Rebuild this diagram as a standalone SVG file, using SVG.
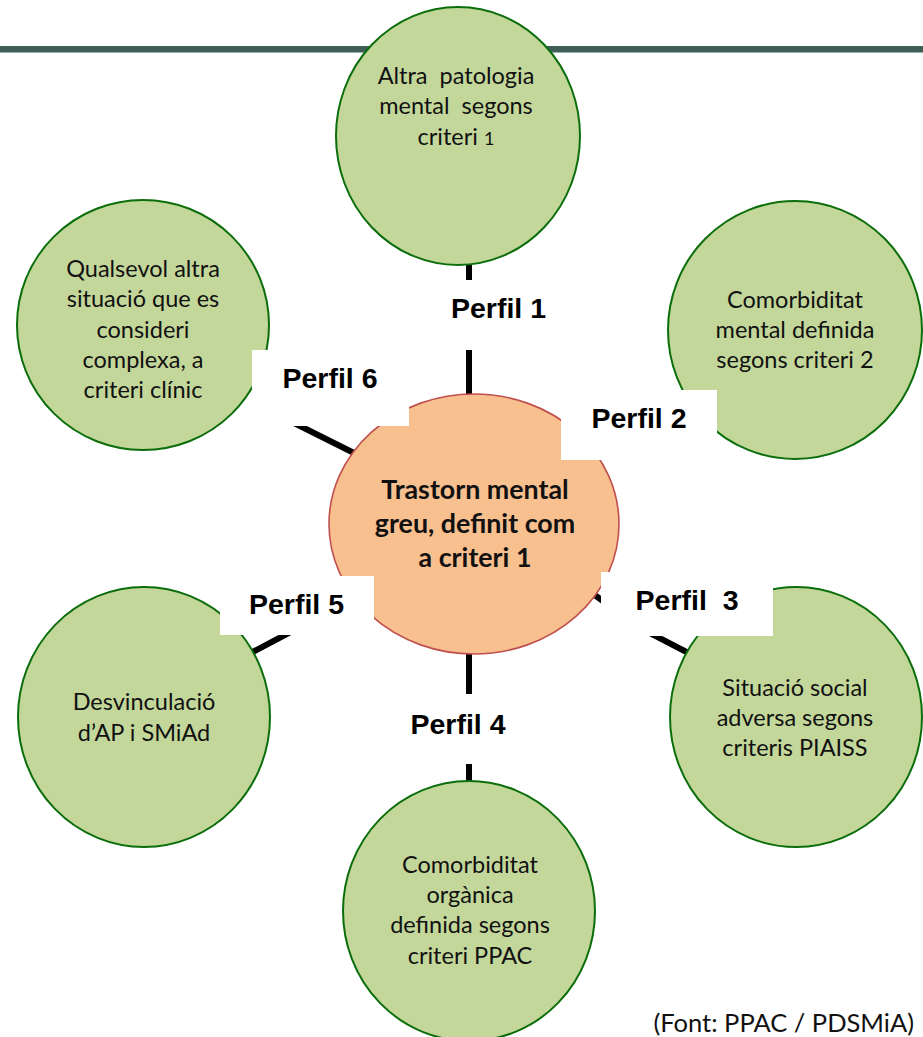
<svg xmlns="http://www.w3.org/2000/svg" width="923" height="1037" viewBox="0 0 923 1037">
<style>
.bar{fill:#3f5e58}
.node{fill:#c4d79b;stroke:#0b6e0b;stroke-width:2}
.core{fill:#f8bf8f;stroke:#c0504d;stroke-width:1.6}
.edge{stroke:#000;stroke-width:6;fill:none}
.lblbox{fill:#fff}
.t{font-family:Lato,"Liberation Sans",sans-serif;font-size:23.5px;fill:#111;text-anchor:middle;white-space:pre}
.tb{font-family:Lato,"Liberation Sans",sans-serif;font-size:26.8px;font-weight:bold;fill:#111;text-anchor:middle}
.lbl{font-family:"Liberation Sans",Arial,sans-serif;font-size:28.5px;font-weight:bold;fill:#000;text-anchor:middle;white-space:pre}
.cap{font-family:Lato,"Liberation Sans",sans-serif;font-size:25.5px;fill:#111;text-anchor:end}
</style>
<rect width="923" height="1037" fill="#fff"/>
<rect class="bar" x="0" y="46" width="923" height="6.5"/>

<g id="connectors">
<line class="edge" x1="469" y1="250" x2="469" y2="410"/>
<line class="edge" x1="575" y1="445" x2="705" y2="418"/>
<polyline class="edge" points="585,588 640,628 700,659"/>
<line class="edge" x1="469" y1="640" x2="469" y2="795"/>
<line class="edge" x1="230" y1="664" x2="300" y2="627"/>
<line class="edge" x1="280" y1="416" x2="372" y2="462"/>
</g>

<g id="node-top">
<ellipse class="node" cx="458" cy="136" rx="122" ry="129"/>
<text class="t" x="456" y="84">Altra  patologia</text>
<text class="t" x="456" y="114">mental  segons</text>
<text class="t" x="456" y="145">criteri <tspan font-size="18">1</tspan></text>
</g>

<g id="node-topright">
<ellipse class="node" cx="795" cy="330" rx="127" ry="129"/>
<text class="t" x="795" y="308">Comorbiditat</text>
<text class="t" x="795" y="338">mental definida</text>
<text class="t" x="795" y="368">segons criteri 2</text>
</g>

<g id="node-topleft">
<ellipse class="node" cx="143" cy="325" rx="126" ry="125"/>
<text class="t" x="143" y="277">Qualsevol altra</text>
<text class="t" x="143" y="307">situació que es</text>
<text class="t" x="143" y="338">consideri</text>
<text class="t" x="143" y="368">complexa, a</text>
<text class="t" x="143" y="398">criteri clínic</text>
</g>

<g id="node-bottomleft">
<ellipse class="node" cx="144" cy="717" rx="126" ry="130"/>
<text class="t" x="144" y="710">Desvinculació</text>
<text class="t" x="144" y="741">d’AP i SMiAd</text>
</g>

<g id="node-bottomright">
<ellipse class="node" cx="796" cy="717" rx="126" ry="130"/>
<text class="t" x="795" y="696">Situació social</text>
<text class="t" x="795" y="726">adversa segons</text>
<text class="t" x="795" y="756">criteris PIAISS</text>
</g>

<g id="node-bottom">
<ellipse class="node" cx="469" cy="911" rx="126" ry="130"/>
<text class="t" x="470" y="873">Comorbiditat</text>
<text class="t" x="470" y="903">orgànica</text>
<text class="t" x="470" y="933">definida segons</text>
<text class="t" x="470" y="964">criteri PPAC</text>
</g>

<g id="node-center">
<ellipse class="core" cx="474" cy="524" rx="145" ry="130"/>
<text class="tb" x="475" y="499">Trastorn mental</text>
<text class="tb" x="475" y="533">greu, definit com</text>
<text class="tb" x="475" y="567">a criteri 1</text>
</g>

<g id="labels">
<g id="label-1"><rect class="lblbox" x="425" y="280" width="140" height="70"/><text class="lbl" x="498.5" y="318">Perfil 1</text></g>
<g id="label-2"><rect class="lblbox" x="561" y="390" width="156" height="70"/><text class="lbl" x="639" y="428">Perfil 2</text></g>
<g id="label-3"><rect class="lblbox" x="601" y="572" width="172" height="64"/><text class="lbl" x="687" y="610">Perfil  3</text></g>
<g id="label-4"><rect class="lblbox" x="395" y="694" width="130" height="70"/><text class="lbl" x="458" y="734">Perfil 4</text></g>
<g id="label-5"><rect class="lblbox" x="220" y="576" width="154" height="59"/><text class="lbl" x="296.5" y="614">Perfil 5</text></g>
<g id="label-6"><rect class="lblbox" x="252" y="350" width="157" height="76"/><text class="lbl" x="330" y="388">Perfil 6</text></g>
</g>

<text class="cap" x="914" y="1032">(Font: PPAC / PDSMiA)</text>
</svg>
